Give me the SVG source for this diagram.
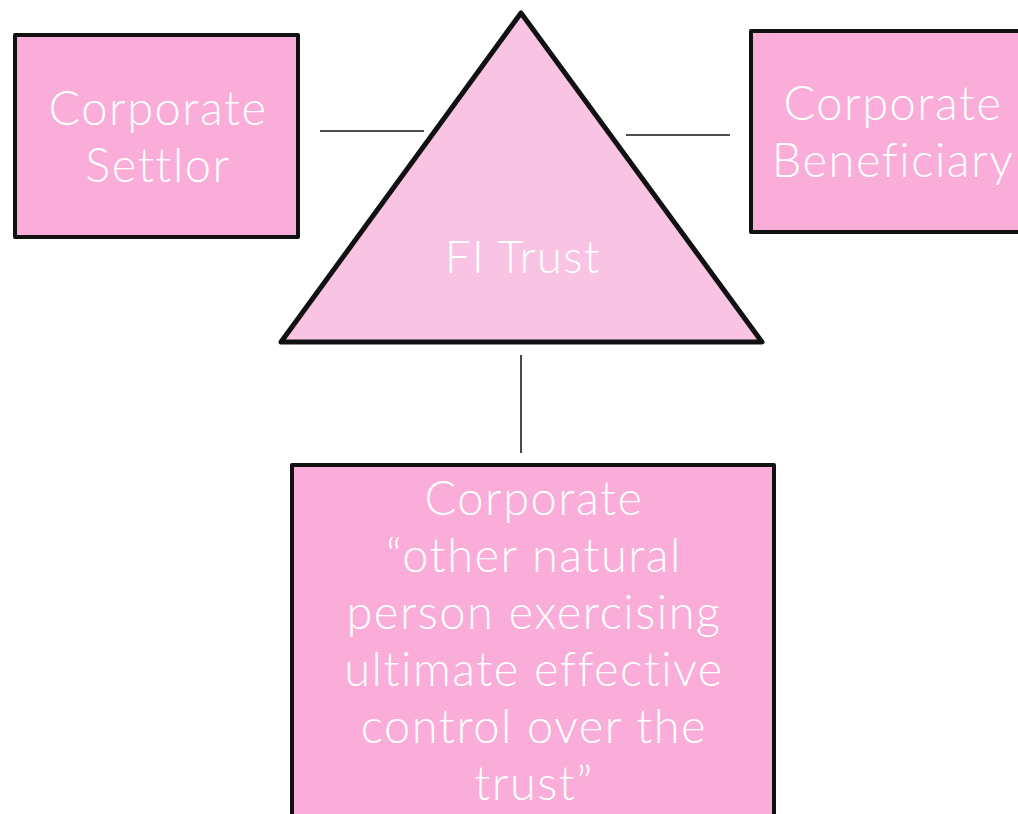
<svg xmlns="http://www.w3.org/2000/svg" width="1018" height="814" viewBox="0 0 1018 814">
<style>
.box{fill:#F9ADD8;stroke:#111;stroke-width:4;stroke-linejoin:round}
.tri{fill:#F9C4E3;stroke:#111;stroke-width:5;stroke-linejoin:round}
.lbl{fill:#fff;font-family:Lato,"Open Sans","Liberation Sans",sans-serif;font-weight:300;font-size:47px;letter-spacing:1.5px;text-anchor:middle}
.con{stroke:#111;stroke-width:1.5;fill:none}
</style>
<rect width="1018" height="814" fill="#fff"/>
<g id="connectors">
<line class="con" x1="320" y1="131" x2="424" y2="131"/>
<line class="con" x1="626" y1="135" x2="730" y2="135"/>
<line class="con" x1="521" y1="355" x2="521" y2="453"/>
</g>
<g id="settlor">
<rect class="box" x="15" y="35" width="283" height="202"/>
<text class="lbl" x="158" y="125">Corporate</text>
<text class="lbl" x="158" y="182">Settlor</text>
</g>
<g id="beneficiary">
<rect class="box" x="751" y="31" width="290" height="201"/>
<text class="lbl" x="893" y="120">Corporate</text>
<text class="lbl" x="893" y="177">Beneficiary</text>
</g>
<g id="trust">
<polygon class="tri" points="521,13 762,342 281,342"/>
<text class="lbl" x="523" y="273" style="font-size:45px">FI Trust</text>
</g>
<g id="controller">
<rect class="box" x="292" y="465" width="482" height="370"/>
<text class="lbl" x="534" y="515">Corporate</text>
<text class="lbl" x="534" y="572">“other natural</text>
<text class="lbl" x="534" y="629">person exercising</text>
<text class="lbl" x="534" y="686">ultimate effective</text>
<text class="lbl" x="534" y="743">control over the</text>
<text class="lbl" x="534" y="800">trust”</text>
</g>
</svg>
